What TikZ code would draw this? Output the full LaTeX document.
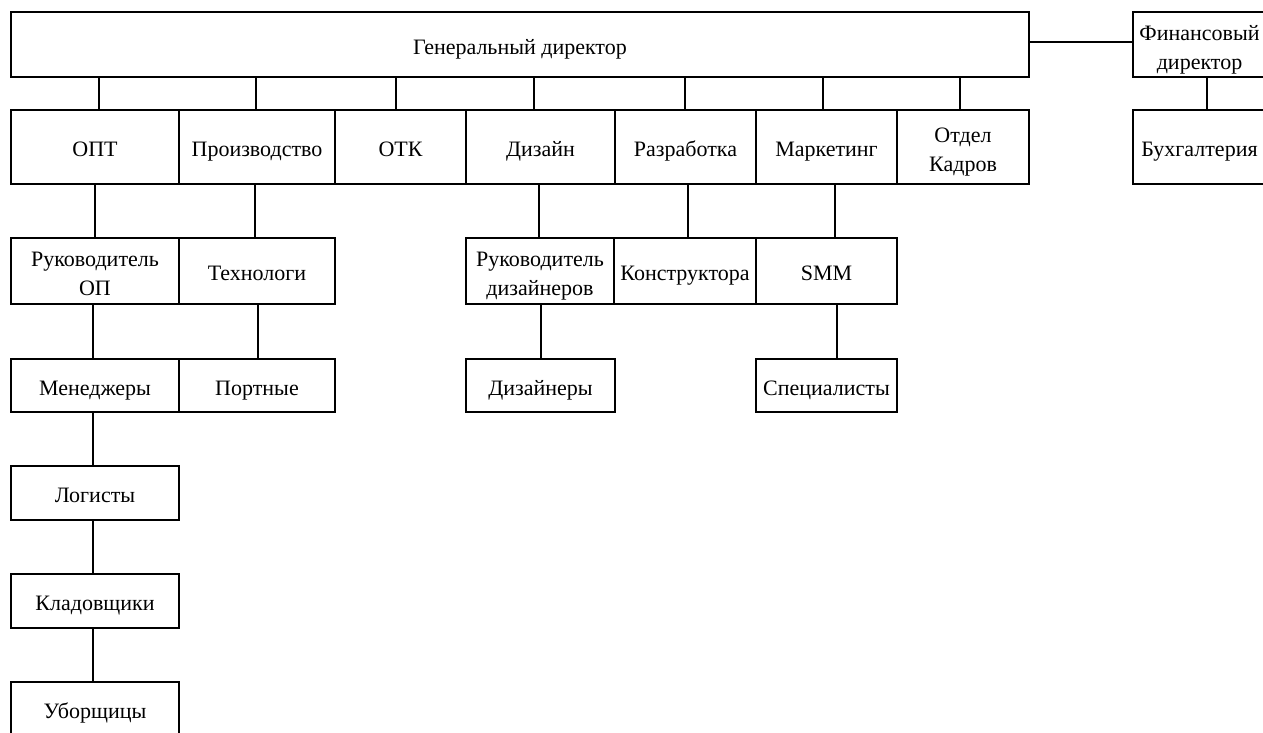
\documentclass[tikz,border=0pt]{standalone}
\usepackage{fontspec}
\setmainfont{Liberation Serif}
\newcommand{\twoline}[2]{\begin{tabular}{@{}c@{}}#1\\#2\end{tabular}}
\begin{document}
\begin{tikzpicture}[x=1pt,y=-1pt,
  box/.style={draw, line width=1.7pt, rectangle, inner sep=0pt, text height=19.4pt, text depth=0pt, font=\fontsize{22}{29}\selectfont},
  conn/.style={line width=2.8pt}]
\useasboundingbox (0,0) rectangle (1263,733);
% top row
\node[box, minimum width=1018, minimum height=65] (gd) at (520,44.5) {Генеральный директор};
\node[box, minimum width=133, minimum height=65] (fd) at (1199.5,44.5) {\twoline{Финансовый}{директор}};
% second row
\node[box, minimum width=168, minimum height=74] (opt) at (95,147) {ОПТ};
\node[box, minimum width=156, minimum height=74] (prz) at (257,147) {Производство};
\node[box, minimum width=131, minimum height=74] (otk) at (400.5,147) {ОТК};
\node[box, minimum width=149, minimum height=74] (diz) at (540.5,147) {Дизайн};
\node[box, minimum width=141, minimum height=74] (raz) at (685.5,147) {Разработка};
\node[box, minimum width=141, minimum height=74] (mar) at (826.5,147) {Маркетинг};
\node[box, minimum width=132, minimum height=74] (kad) at (963,147) {\twoline{Отдел}{Кадров}};
\node[box, minimum width=133, minimum height=74] (buh) at (1199.5,147) {Бухгалтерия};
% third row
\node[box, minimum width=168, minimum height=66] (rop) at (95,271) {\twoline{Руководитель}{ОП}};
\node[box, minimum width=156, minimum height=66] (teh) at (257,271) {Технологи};
\node[box, minimum width=148, minimum height=66] (rdz) at (540,271) {\twoline{Руководитель}{дизайнеров}};
\node[box, minimum width=142, minimum height=66] (kon) at (685,271) {Конструктора};
\node[box, minimum width=141, minimum height=66] (smm) at (826.5,271) {SMM};
% fourth row
\node[box, minimum width=168, minimum height=53] (men) at (95,385.5) {Менеджеры};
\node[box, minimum width=156, minimum height=53] (por) at (257,385.5) {Портные};
\node[box, minimum width=149, minimum height=53] (dzs) at (540.5,385.5) {Дизайнеры};
\node[box, minimum width=141, minimum height=53] (spe) at (826.5,385.5) {Специалисты};
% column
\node[box, minimum width=168, minimum height=54] (log) at (95,493) {Логисты};
\node[box, minimum width=168, minimum height=54] (kla) at (95,601) {Кладовщики};
\node[box, minimum width=168, minimum height=54] (ubo) at (95,709) {Уборщицы};
% connector x positions
\coordinate (a1) at (99,0);
\coordinate (a2) at (256,0);
\coordinate (a3) at (396,0);
\coordinate (a4) at (534,0);
\coordinate (a5) at (685,0);
\coordinate (a6) at (823,0);
\coordinate (a7) at (960,0);
\coordinate (af) at (1207,0);
\coordinate (ah) at (0,42);
\coordinate (b1) at (95,0);
\coordinate (b2) at (255,0);
\coordinate (b3) at (539,0);
\coordinate (b4) at (688,0);
\coordinate (b5) at (835,0);
\coordinate (c1) at (93,0);
\coordinate (c2) at (258,0);
\coordinate (c3) at (541,0);
\coordinate (c4) at (837,0);
% connectors
\draw[conn] (gd.east |- ah) -- (fd.west |- ah);
\draw[conn] (gd.south -| a1) -- (opt.north -| a1);
\draw[conn] (gd.south -| a2) -- (prz.north -| a2);
\draw[conn] (gd.south -| a3) -- (otk.north -| a3);
\draw[conn] (gd.south -| a4) -- (diz.north -| a4);
\draw[conn] (gd.south -| a5) -- (raz.north -| a5);
\draw[conn] (gd.south -| a6) -- (mar.north -| a6);
\draw[conn] (gd.south -| a7) -- (kad.north -| a7);
\draw[conn] (fd.south -| af) -- (buh.north -| af);
\draw[conn] (opt.south -| b1) -- (rop.north -| b1);
\draw[conn] (prz.south -| b2) -- (teh.north -| b2);
\draw[conn] (diz.south -| b3) -- (rdz.north -| b3);
\draw[conn] (raz.south -| b4) -- (kon.north -| b4);
\draw[conn] (mar.south -| b5) -- (smm.north -| b5);
\draw[conn] (rop.south -| c1) -- (men.north -| c1);
\draw[conn] (teh.south -| c2) -- (por.north -| c2);
\draw[conn] (rdz.south -| c3) -- (dzs.north -| c3);
\draw[conn] (smm.south -| c4) -- (spe.north -| c4);
\draw[conn] (men.south -| c1) -- (log.north -| c1);
\draw[conn] (log.south -| c1) -- (kla.north -| c1);
\draw[conn] (kla.south -| c1) -- (ubo.north -| c1);
\end{tikzpicture}
\end{document}
